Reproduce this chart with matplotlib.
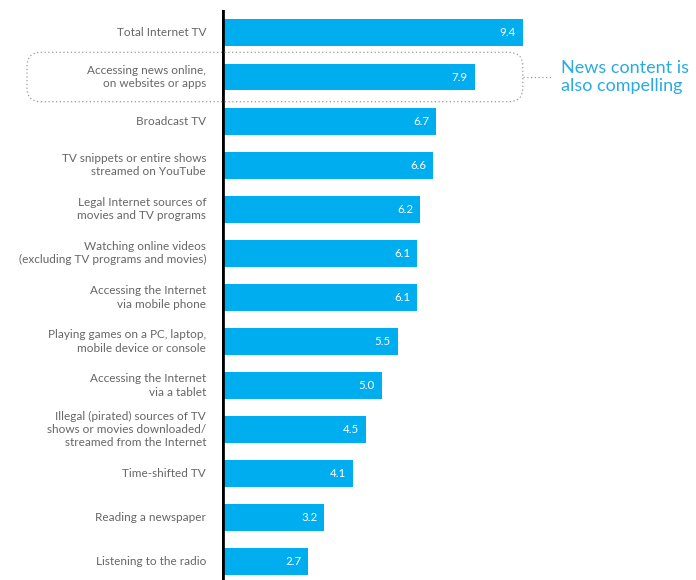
import matplotlib.pyplot as plt
from matplotlib.patches import FancyBboxPatch

categories = [
    "Total Internet TV",
    "Accessing news online,\non websites or apps",
    "Broadcast TV",
    "TV snippets or entire shows\nstreamed on YouTube",
    "Legal Internet sources of\nmovies and TV programs",
    "Watching online videos\n(excluding TV programs and movies)",
    "Accessing the Internet\nvia mobile phone",
    "Playing games on a PC, laptop,\nmobile device or console",
    "Accessing the Internet\nvia a tablet",
    "Illegal (pirated) sources of TV\nshows or movies downloaded/\nstreamed from the Internet",
    "Time-shifted TV",
    "Reading a newspaper",
    "Listening to the radio",
]
values = [9.4, 7.9, 6.7, 6.6, 6.2, 6.1, 6.1, 5.5, 5.0, 4.5, 4.1, 3.2, 2.7]

bar_color = "#00ADEF"
label_color = "#666666"

fig = plt.figure(figsize=(6.96, 5.8), dpi=100)
# axes from the black axis line to the right edge
ax = fig.add_axes([222 / 696, 0, 1 - 222 / 696, 570 / 580])

y = list(range(len(values)))
ax.barh(y, values, height=0.61, color=bar_color, zorder=2)
ax.set_xlim(0, (696 - 222) / 32.0)
ax.set_ylim(12.41, -0.52)

for s in ["top", "right", "bottom", "left"]:
    ax.spines[s].set_visible(False)
ax.set_xticks([])
ax.set_yticks([])
ax.axvline(0, color="black", lw=3.4, zorder=3, ymin=0, ymax=1)

# value labels inside the bars
for yi, v in zip(y, values):
    ax.text(v - 0.22, yi, f"{v:.1f}", ha="right", va="center",
            color="white", fontsize=8.3, family="Lato", zorder=4)

# category labels to the left
for yi, c in zip(y, categories):
    ax.text(-0.5, yi, c, ha="right", va="center", color=label_color,
            fontsize=8.5, family="Lato", linespacing=1.25, clip_on=False)

# dotted rounded box around the news row
fig.canvas.draw()
x0 = 27
x1, _ = ax.transData.transform((values[0], 0))
_, ytop = ax.transData.transform((0, 1 - 0.56))
_, ybot = ax.transData.transform((0, 1 + 0.56))
box = FancyBboxPatch((x0, ybot), x1 - x0, ytop - ybot,
                     boxstyle="round,pad=0,rounding_size=14",
                     transform=None, fill=False, edgecolor="#9a9a9a",
                     linestyle=(0, (1, 2)), lw=0.9, clip_on=False, zorder=1)
fig.patches.append(box)

_, ymid = ax.transData.transform((0, 1))
fig.lines.append(plt.Line2D([x1, x1 + 28], [ymid, ymid], transform=None,
                            color="#9a9a9a", linestyle=(0, (1, 2)), lw=0.9))
fig.text((x1 + 38) / 696, ymid / 580, "News content is\nalso compelling",
         ha="left", va="center", color="#29ABE2", fontsize=13,
         family="Lato", linespacing=1.1)

fig.savefig("out.png", dpi=100)
